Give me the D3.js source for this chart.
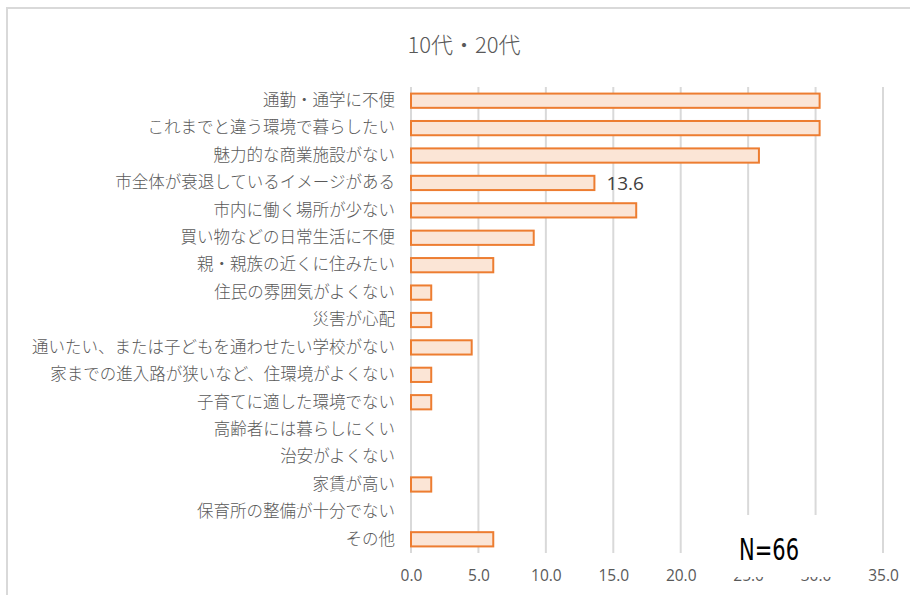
<!DOCTYPE html>
<html>
<head>
<meta charset="utf-8">
<script src="https://cdn.jsdelivr.net/npm/d3@7"></script>
<style>
  body { margin: 0; background: #fff; }
</style>
</head>
<body>
<div id="chart"></div>
<script>
// categories top to bottom, values in %
const categories = [
  "通勤・通学に不便",
  "これまでと違う環境で暮らしたい",
  "魅力的な商業施設がない",
  "市全体が衰退しているイメージがある",
  "市内に働く場所が少ない",
  "買い物などの日常生活に不便",
  "親・親族の近くに住みたい",
  "住民の雰囲気がよくない",
  "災害が心配",
  "通いたい、または子どもを通わせたい学校がない",
  "家までの進入路が狭いなど、住環境がよくない",
  "子育てに適した環境でない",
  "高齢者には暮らしにくい",
  "治安がよくない",
  "家賃が高い",
  "保育所の整備が十分でない",
  "その他"
];
const values = [30.3, 30.3, 25.8, 13.6, 16.7, 9.1, 6.1, 1.5, 1.5, 4.5, 1.5, 1.5, 0, 0, 1.5, 0, 6.1];
const xTicks = [0, 5, 10, 15, 20, 25, 30, 35];
const labelled = ["市全体が衰退しているイメージがある"];

const W = 910, H = 595;
const margin = { top: 87, right: 27, bottom: 42, left: 411 };
const width = W - margin.left - margin.right,
  height = H - margin.top - margin.bottom;

const font = "'Noto Sans CJK JP', 'Noto Sans', sans-serif";

const root = d3.select("#chart")
  .append("svg")
  .attr("width", W)
  .attr("height", H);

// outer chart frame
root.append("rect")
  .attr("x", 7).attr("y", 8)
  .attr("width", W + 10).attr("height", H + 10)
  .attr("fill", "#fff")
  .attr("stroke", "#d9d9d9")
  .attr("stroke-width", 2);

root.append("text")
  .text("10代・20代")
  .attr("x", 464).attr("y", 53)
  .attr("text-anchor", "middle")
  .attr("font-family", font)
  .attr("font-size", "22px")
  .attr("font-weight", 300)
  .attr("fill", "#595959");

const svg = root.append("g")
  .attr("transform", "translate(" + margin.left + "," + margin.top + ")");

const x = d3.scaleLinear()
  .domain([0, 35])
  .range([0, width]);

const y = d3.scaleBand()
  .domain(categories)
  .range([0, height])
  .paddingInner(0.48)
  .paddingOuter(0.24);

// gridlines
svg.append("g")
  .selectAll("line")
  .data(xTicks)
  .enter()
  .append("line")
  .attr("x1", d => x(d)).attr("x2", d => x(d))
  .attr("y1", 0).attr("y2", height)
  .attr("stroke", "#d9d9d9")
  .attr("stroke-width", 2);

// x axis labels
const xAxis = svg.append("g")
  .attr("transform", "translate(0," + height + ")")
  .call(d3.axisBottom(x).tickValues(xTicks).tickFormat(d3.format(".1f")).tickSize(0).tickPadding(17));
xAxis.select(".domain").remove();
xAxis.selectAll("text")
  .attr("font-family", "'Open Sans', 'Noto Sans', sans-serif")
  .attr("font-size", "15.5px")
  .attr("fill", "#595959");

// category labels
const yAxis = svg.append("g")
  .call(d3.axisLeft(y).tickSize(0).tickPadding(16));
yAxis.select(".domain").remove();
yAxis.selectAll("text")
  .attr("font-family", font)
  .attr("font-size", "16.5px")
  .attr("font-weight", 300)
  .attr("fill", "#595959");

// bars
svg.selectAll(".bar")
  .data(categories.map((c, i) => ({ c: c, v: values[i] })).filter(d => d.v > 0))
  .enter()
  .append("rect")
  .attr("class", "bar")
  .attr("x", x(0))
  .attr("y", d => y(d.c))
  .attr("width", d => x(d.v) - x(0))
  .attr("height", y.bandwidth())
  .attr("fill", "#fbe5d6")
  .attr("stroke", "#ed7d31")
  .attr("stroke-width", 2);

// data label
svg.selectAll(".vlabel")
  .data(categories.map((c, i) => ({ c: c, v: values[i] })).filter(d => labelled.includes(d.c)))
  .enter()
  .append("text")
  .attr("x", d => x(d.v) + 12)
  .attr("y", d => y(d.c) + y.bandwidth() / 2 + 7)
  .text(d => d.v.toFixed(1))
  .attr("font-family", "'Open Sans', 'Noto Sans', sans-serif")
  .attr("font-size", "19px")
  .attr("fill", "#404040");

// N label box
root.append("rect")
  .attr("x", 722).attr("y", 515)
  .attr("width", 118).attr("height", 62)
  .attr("fill", "#fff");

root.append("text")
  .text("N=66")
  .attr("transform", "translate(739,560) scale(0.7,1)")
  .attr("font-family", "'DejaVu Sans', sans-serif")
  .attr("font-size", "30px")
  .attr("fill", "#000");
</script>
</body>
</html>
